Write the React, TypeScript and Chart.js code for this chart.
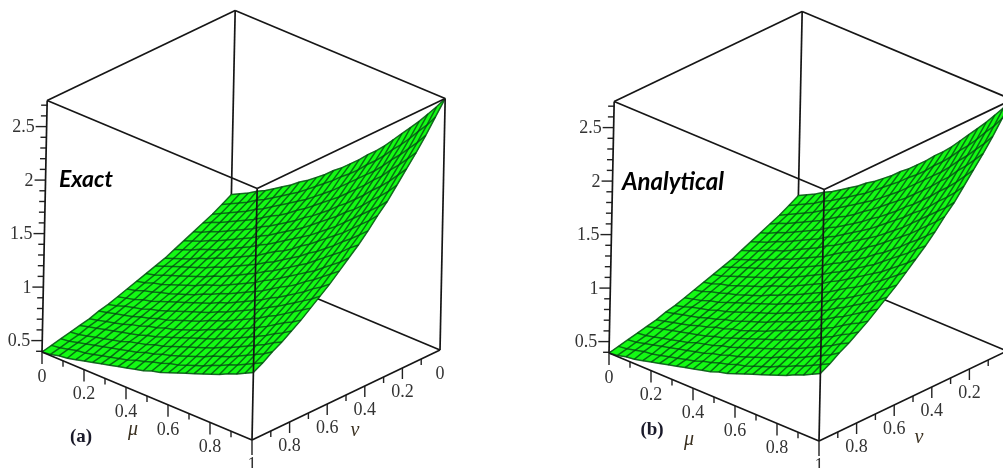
import React, { useEffect, useRef } from "react";
import { Chart, registerables } from "chart.js";

Chart.register(...registerables);

const muGrid = [0, 0.04, 0.08, 0.12, 0.16, 0.2, 0.24, 0.28, 0.32, 0.36, 0.4, 0.44, 0.48, 0.52, 0.56, 0.6, 0.64, 0.68, 0.72, 0.76, 0.8, 0.84, 0.88, 0.92, 0.96, 1];
const nuGrid = [0, 0.05, 0.1, 0.15, 0.2, 0.25, 0.3, 0.35, 0.4, 0.45, 0.5, 0.55, 0.6, 0.65, 0.7, 0.75, 0.8, 0.85, 0.9, 0.95, 1];

// surface height: one row per nu value, one column per mu value
const surfaceValues = [
  [1.00,1.04,1.08,1.13,1.17,1.22,1.27,1.32,1.38,1.43,1.49,1.55,1.62,1.68,1.75,1.82,1.90,1.97,2.05,2.14,2.23,2.32,2.41,2.51,2.61,2.72],
  [.95,.99,1.03,1.07,1.12,1.16,1.21,1.26,1.31,1.36,1.42,1.48,1.54,1.60,1.67,1.73,1.80,1.88,1.95,2.03,2.12,2.20,2.29,2.39,2.48,2.59],
  [.90,.94,.98,1.02,1.06,1.11,1.15,1.20,1.25,1.30,1.35,1.40,1.46,1.52,1.58,1.65,1.72,1.79,1.86,1.93,2.01,2.10,2.18,2.27,2.36,2.46],
  [.86,.90,.93,.97,1.01,1.05,1.09,1.14,1.19,1.23,1.28,1.34,1.39,1.45,1.51,1.57,1.63,1.70,1.77,1.84,1.92,1.99,2.08,2.16,2.25,2.34],
  [.82,.85,.89,.92,.96,1.00,1.04,1.08,1.13,1.17,1.22,1.27,1.32,1.38,1.43,1.49,1.55,1.62,1.68,1.75,1.82,1.90,1.97,2.05,2.14,2.23],
  [.78,.81,.84,.88,.91,.95,.99,1.03,1.07,1.12,1.16,1.21,1.26,1.31,1.36,1.42,1.48,1.54,1.60,1.67,1.73,1.80,1.88,1.95,2.03,2.12],
  [.74,.77,.80,.84,.87,.90,.94,.98,1.02,1.06,1.11,1.15,1.20,1.25,1.30,1.35,1.40,1.46,1.52,1.58,1.65,1.72,1.79,1.86,1.93,2.01],
  [.70,.73,.76,.79,.83,.86,.90,.93,.97,1.01,1.05,1.09,1.14,1.19,1.23,1.28,1.34,1.39,1.45,1.51,1.57,1.63,1.70,1.77,1.84,1.92],
  [.67,.70,.73,.76,.79,.82,.85,.89,.92,.96,1.00,1.04,1.08,1.13,1.17,1.22,1.27,1.32,1.38,1.43,1.49,1.55,1.62,1.68,1.75,1.82],
  [.64,.66,.69,.72,.75,.78,.81,.84,.88,.91,.95,.99,1.03,1.07,1.12,1.16,1.21,1.26,1.31,1.36,1.42,1.48,1.54,1.60,1.67,1.73],
  [.61,.63,.66,.68,.71,.74,.77,.80,.84,.87,.90,.94,.98,1.02,1.06,1.11,1.15,1.20,1.25,1.30,1.35,1.40,1.46,1.52,1.58,1.65],
  [.58,.60,.63,.65,.68,.70,.73,.76,.79,.83,.86,.90,.93,.97,1.01,1.05,1.09,1.14,1.19,1.23,1.28,1.34,1.39,1.45,1.51,1.57],
  [.55,.57,.59,.62,.64,.67,.70,.73,.76,.79,.82,.85,.89,.92,.96,1.00,1.04,1.08,1.13,1.17,1.22,1.27,1.32,1.38,1.43,1.49],
  [.52,.54,.57,.59,.61,.64,.66,.69,.72,.75,.78,.81,.84,.88,.91,.95,.99,1.03,1.07,1.12,1.16,1.21,1.26,1.31,1.36,1.42],
  [.50,.52,.54,.56,.58,.61,.63,.66,.68,.71,.74,.77,.80,.84,.87,.90,.94,.98,1.02,1.06,1.11,1.15,1.20,1.25,1.30,1.35],
  [.47,.49,.51,.53,.55,.58,.60,.63,.65,.68,.70,.73,.76,.79,.83,.86,.90,.93,.97,1.01,1.05,1.09,1.14,1.19,1.23,1.28],
  [.45,.47,.49,.51,.53,.55,.57,.59,.62,.64,.67,.70,.73,.76,.79,.82,.85,.89,.92,.96,1.00,1.04,1.08,1.13,1.17,1.22],
  [.43,.44,.46,.48,.50,.52,.54,.57,.59,.61,.64,.66,.69,.72,.75,.78,.81,.84,.88,.91,.95,.99,1.03,1.07,1.12,1.16],
  [.41,.42,.44,.46,.48,.50,.52,.54,.56,.58,.61,.63,.66,.68,.71,.74,.77,.80,.84,.87,.90,.94,.98,1.02,1.06,1.11],
  [.39,.40,.42,.44,.45,.47,.49,.51,.53,.55,.58,.60,.63,.65,.68,.70,.73,.76,.79,.83,.86,.90,.93,.97,1.01,1.05],
  [.37,.38,.40,.41,.43,.45,.47,.49,.51,.53,.55,.57,.59,.62,.64,.67,.70,.73,.76,.79,.82,.85,.89,.92,.96,1.00],
];

const zRange = [0.37, 2.72];
const zTicksMajor = [0.5, 1, 1.5, 2, 2.5];
const zTickLabels = ["0.5", "1", "1.5", "2", "2.5"];
const zTicksMinor = [0.4, 0.6, 0.7, 0.8, 0.9, 1.1, 1.2, 1.3, 1.4, 1.6, 1.7, 1.8, 1.9, 2.1, 2.2, 2.3, 2.4, 2.6, 2.7];
const muTicksMajor = [0, 0.2, 0.4, 0.6, 0.8, 1];
const muTickLabels = ["0", "0.2", "0.4", "0.6", "0.8", "1"];
const muTicksMinor = [0.1, 0.3, 0.5, 0.7, 0.9];
const nuTicksMajor = [0, 0.2, 0.4, 0.6, 0.8];
const nuTickLabels = ["0", "0.2", "0.4", "0.6", "0.8"];
const nuTicksMinor = [0.1, 0.3, 0.5, 0.7, 0.9];

type Pt = { x: number; y: number };
type Txt = { text: string; x: number; y: number; font: string; color: string; align?: CanvasTextAlign };

const SERIF = '18px "Liberation Serif"';
const INK = "#333333";

function Panel({ left, width, title, titleSize, titleX, titleY, tag, tagX, tagY, muX, muY, nuX, nuY, ox, oy }: any) {
  const ref = useRef<HTMLCanvasElement | null>(null);
  useEffect(() => {
    // parallel projection of the plot box on the canvas
    const project = (mu: number, nu: number, z: number): Pt => {
      const h = z - zRange[0];
      return {
        x: ox + mu * 210 + (1 - nu) * 188 + h * 2.2,
        y: oy + mu * 88 - (1 - nu) * 90 - h * 107,
      };
    };
    const [zLo, zHi] = zRange;
    const line = (data: Pt[], order: number, color = "#161616", borderWidth = 1.7) => ({
      data, order, showLine: true, borderColor: color, borderWidth, pointRadius: 0, tension: 0, fill: false,
    });
    const seg = (a: number[], b: number[], order: number) =>
      line([project(a[0], a[1], a[2]), project(b[0], b[1], b[2])], order);
    const datasets: any[] = [];

    // hidden rear edges sit beneath the surface
    datasets.push(seg([0, 0, zLo], [0, 1, zLo], 4));
    datasets.push(seg([0, 0, zLo], [1, 0, zLo], 4));
    datasets.push(seg([0, 0, zLo], [0, 0, zHi], 4));

    // surface
    const n = muGrid.length;
    const m = nuGrid.length;
    const outline: Pt[] = [];
    for (let i = 0; i < n; i++) outline.push(project(muGrid[i], nuGrid[0], surfaceValues[0][i]));
    for (let j = 1; j < m; j++) outline.push(project(muGrid[n - 1], nuGrid[j], surfaceValues[j][n - 1]));
    for (let i = n - 2; i >= 0; i--) outline.push(project(muGrid[i], nuGrid[m - 1], surfaceValues[m - 1][i]));
    for (let j = m - 2; j >= 0; j--) outline.push(project(muGrid[0], nuGrid[j], surfaceValues[j][0]));
    datasets.push({ ...line(outline, 3, "#25d025", 0.6), fill: "shape", backgroundColor: "#14fa14" });

    const rowColor = "rgba(5,75,20,0.8)";
    const colColor = "rgba(5,80,20,0.82)";
    for (let j = 0; j < m; j++) {
      datasets.push(line(muGrid.map((mu, i) => project(mu, nuGrid[j], surfaceValues[j][i])), 2, rowColor, 1.5));
    }
    for (let i = 0; i < n; i++) {
      datasets.push(line(nuGrid.map((nu, j) => project(muGrid[i], nu, surfaceValues[j][i])), 2, colColor, 1.5));
    }

    // front and top edges sit above the surface
    datasets.push(seg([0, 1, zLo], [1, 1, zLo], 1));
    datasets.push(seg([1, 0, zLo], [1, 1, zLo], 1));
    datasets.push(seg([0, 1, zLo], [0, 1, zHi], 1));
    datasets.push(seg([1, 1, zLo], [1, 1, zHi], 1));
    datasets.push(seg([1, 0, zLo], [1, 0, zHi], 1));
    datasets.push(seg([0, 1, zHi], [1, 1, zHi], 1));
    datasets.push(seg([1, 1, zHi], [1, 0, zHi], 1));
    datasets.push(seg([1, 0, zHi], [0, 0, zHi], 1));
    datasets.push(seg([0, 0, zHi], [0, 1, zHi], 1));

    // ticks
    const zShift = 2.5;
    const tickDown = (p: Pt, len: number) => line([p, { x: p.x, y: p.y + len }], 1, "#222", 1.4);
    const tickLeft = (p: Pt, len: number) =>
      line([{ x: p.x, y: p.y + zShift }, { x: p.x - len, y: p.y + zShift }], 1, "#222", 1.4);
    muTicksMajor.forEach((t) => datasets.push(tickDown(project(t, 1, zLo), t === 1 ? 15 : 12)));
    muTicksMinor.forEach((t) => datasets.push(tickDown(project(t, 1, zLo), 6)));
    nuTicksMajor.forEach((t) => datasets.push(tickDown(project(1, t, zLo), t === 0 ? 0 : 11)));
    nuTicksMinor.forEach((t) => datasets.push(tickDown(project(1, t, zLo), 6)));
    zTicksMajor.forEach((t) => datasets.push(tickLeft(project(0, 1, t), 11)));
    zTicksMinor.forEach((t) => datasets.push(tickLeft(project(0, 1, t), 6)));

    // texts
    const texts: Txt[] = [];
    muTicksMajor.forEach((t, i) => {
      const p = project(t, 1, zLo);
      texts.push({ text: muTickLabels[i], x: p.x, y: p.y + 25, font: SERIF, color: INK });
    });
    nuTicksMajor.forEach((t, i) => {
      const p = project(1, t, zLo);
      texts.push({ text: nuTickLabels[i], x: p.x, y: p.y + 24, font: SERIF, color: INK });
    });
    zTicksMajor.forEach((t, i) => {
      const p = project(0, 1, t);
      texts.push({ text: zTickLabels[i], x: p.x - 12, y: p.y + zShift + 1, font: SERIF, color: INK, align: "right" });
    });
    texts.push({ text: title, x: titleX, y: titleY, font: `italic bold ${titleSize}px Lato`, color: "#000", align: "left" });
    texts.push({ text: tag, x: tagX, y: tagY, font: 'bold 19px "Liberation Serif"', color: "#1a1a2a" });
    texts.push({ text: "μ", x: muX, y: muY, font: 'italic 20px "Liberation Serif"', color: "#3a3020" });
    texts.push({ text: "ν", x: nuX, y: nuY, font: 'italic 20px "Liberation Serif"', color: "#3a3020" });

    const textPlugin = {
      id: "panelTexts",
      afterDatasetsDraw(chart: any) {
        const { ctx, scales } = chart;
        ctx.save();
        ctx.textBaseline = "middle";
        for (const t of texts) {
          ctx.font = t.font;
          ctx.fillStyle = t.color;
          ctx.textAlign = t.align ?? "center";
          ctx.fillText(t.text, scales.x.getPixelForValue(t.x), scales.y.getPixelForValue(t.y));
        }
        ctx.restore();
      },
    };

    const chart = new Chart(ref.current!, {
      type: "scatter",
      data: { datasets },
      options: {
        animation: false,
        responsive: false,
        events: [],
        layout: { padding: 0 },
        plugins: { legend: { display: false }, tooltip: { enabled: false }, title: { display: false } },
        scales: {
          x: { type: "linear", min: 0, max: width, display: false },
          y: { type: "linear", min: 0, max: 468, reverse: true, display: false },
        },
      },
      plugins: [textPlugin],
    } as any);
    return () => chart.destroy();
  }, []);
  return (
    <canvas
      ref={ref}
      width={width}
      height={468}
      style={{ position: "absolute", left, top: 0, width, height: 468, display: "block", filter: "blur(0.45px)" }}
    />
  );
}

export default function App() {
  return (
    <div style={{ position: "fixed", left: 0, top: 0, width: 1003, height: 468, overflow: "hidden", background: "#fff" }}>
      <Panel left={0} width={560} title="Exact" titleSize={23} titleX={59} titleY={180} tag="(a)" tagX={81} tagY={437}
        muX={133} muY={430} nuX={355} nuY={431} ox={42} oy={352} />
      <Panel left={560} width={443} title="Analytical" titleSize={24} titleX={62} titleY={182} tag="(b)" tagX={92} tagY={430}
        muX={129} muY={440} nuX={359} nuY={438} ox={49} oy={353} />
    </div>
  );
}
